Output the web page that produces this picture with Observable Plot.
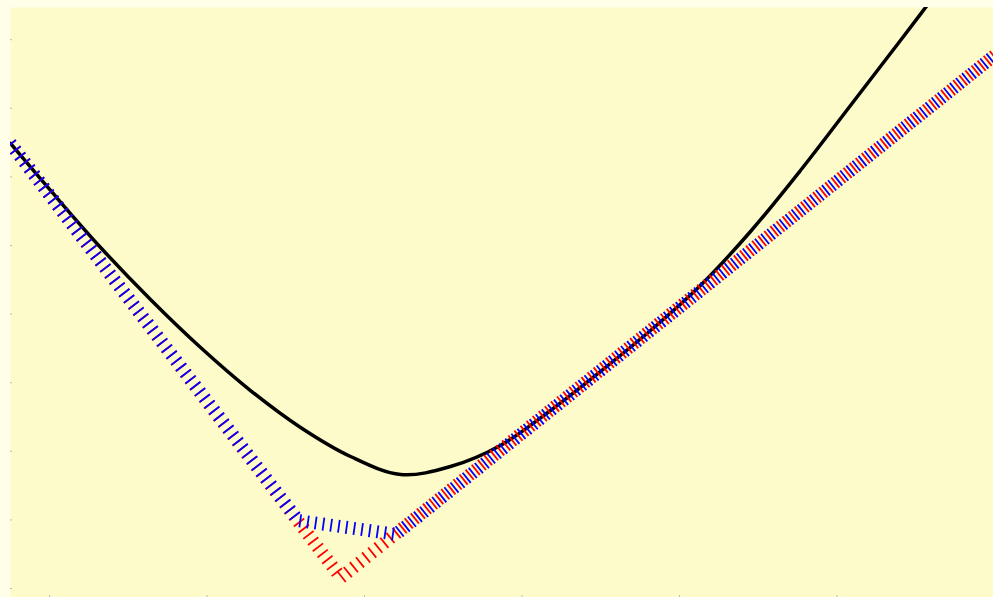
<!DOCTYPE html>
<html>
<head>
<meta charset="utf-8">
<script src="https://cdn.jsdelivr.net/npm/d3@7"></script>
<script src="https://cdn.jsdelivr.net/npm/@observablehq/plot@0.6"></script>
<style>
  html, body { margin: 0; padding: 0; background: #fffee8; overflow: hidden; }
  #chart { position: absolute; left: 0; top: 0; }
</style>
</head>
<body>
<div id="chart"></div>
<script>
// Smooth convex curve (black)
const curveX = [-0.248, 0.006, 0.324, 0.641, 0.959, 1.276, 1.594, 1.911, 2.229, 2.546, 2.863, 3.181, 3.498, 3.816, 4.133, 4.451, 4.768, 5.086, 5.403, 5.721];
const curveY = [6.487, 5.802, 4.971, 4.213, 3.513, 2.886, 2.347, 1.924, 1.662, 1.778, 2.085, 2.595, 3.163, 3.761, 4.417, 5.204, 6.093, 7.041, 7.988, 8.950];

// Piecewise-linear model with three pieces (blue)
const blueX = [-0.25, 1.58, 2.20, 6.00];
const blueY = [6.49, 0.99, 0.79, 7.77];

// Piecewise-linear model with two pieces (red)
const redX = [-0.25, 1.85, 6.00];
const redY = [6.49, 0.16, 7.77];

// Axis ticks (unlabelled)
const xTicks = [0, 1, 2, 3, 4, 5];
const yTicks = [0, 1, 2, 3, 4, 5, 6, 7, 8];

const curve = curveX.map((x, i) => ({x, y: curveY[i]}));
const blue = blueX.map((x, i) => ({x, y: blueY[i]}));
const red = redX.map((x, i) => ({x, y: redY[i]}));

const chart = Plot.plot({
  width: 993,
  height: 597,
  marginLeft: 10,
  marginTop: 7,
  marginRight: 0,
  marginBottom: 0,
  x: {domain: [-0.248, 5.994]},
  y: {domain: [-0.131, 8.469]},
  style: {background: "transparent", overflow: "hidden"},
  marks: [
    Plot.frame({fill: "#fdfbca", stroke: null}),
    Plot.axisX({ticks: xTicks, tickSize: -2, tickFormat: () => "", label: null, stroke: "#bbbbbb"}),
    Plot.axisY({ticks: yTicks, tickSize: -2, tickFormat: () => "", label: null, stroke: "#bbbbbb"}),
    Plot.line(curve, {x: "x", y: "y", stroke: "#000000", strokeWidth: 3.5, curve: "catmull-rom", clip: true}),
    Plot.line(red, {x: "x", y: "y", stroke: "#ff0000", strokeWidth: 13, strokeDasharray: "1.8,6", strokeLinejoin: "miter", strokeLinecap: "butt", clip: true}),
    Plot.line(blue, {x: "x", y: "y", stroke: "#0000ff", strokeWidth: 13, strokeDasharray: "1.8,6", strokeLinejoin: "miter", strokeLinecap: "butt", clip: true})
  ]
});
document.getElementById("chart").appendChild(chart);
</script>
</body>
</html>
